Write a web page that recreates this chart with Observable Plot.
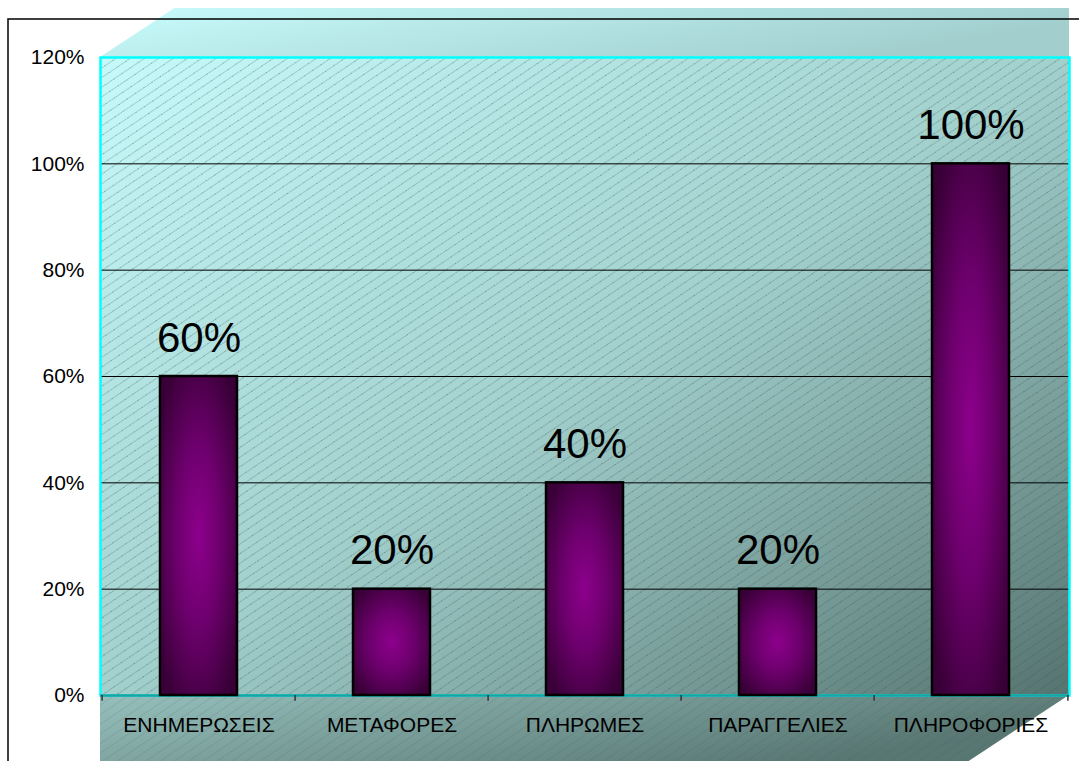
<!DOCTYPE html>
<html><head><meta charset="utf-8">
<script src="https://cdn.jsdelivr.net/npm/d3@7"></script>
<script src="https://cdn.jsdelivr.net/npm/@observablehq/plot@0.6"></script>
<style>html,body{margin:0;padding:0;background:#fff}#chart svg{display:block}</style>
</head><body><div id="chart"></div>
<script>
const categories = ["ΕΝΗΜΕΡΩΣΕΙΣ", "ΜΕΤΑΦΟΡΕΣ", "ΠΛΗΡΩΜΕΣ", "ΠΑΡΑΓΓΕΛΙΕΣ", "ΠΛΗΡΟΦΟΡΙΕΣ"];
const values = [0.6, 0.2, 0.4, 0.2, 1.0];
const valueLabels = ["60%", "20%", "40%", "20%", "100%"];
const yTicks = [0, 0.2, 0.4, 0.6, 0.8, 1.0, 1.2];
const yTickLabels = ["0%", "20%", "40%", "60%", "80%", "100%", "120%"];

const data = categories.map((c, i) => ({category: c, value: values[i], label: valueLabels[i]}));

const W = 1079, H = 761, mT = 57, mB = 66, mL = 100, mR = 10;
const step = (W - mL - mR) / categories.length;
const font = "'Liberation Sans', Arial, sans-serif";

const chart = Plot.plot({
  width: W, height: H,
  marginTop: mT, marginBottom: mB, marginLeft: mL, marginRight: mR,
  style: {fontFamily: font, background: "transparent", color: "black", overflow: "visible"},
  x: {domain: categories, paddingInner: 0.6, paddingOuter: 0.3, label: null},
  y: {domain: [0, 1.2], label: null},
  marks: [
    Plot.frame({fill: "url(#bgGrad)", stroke: "none"}),
    Plot.frame({fill: "url(#hatch)", stroke: "none"}),
    Plot.ruleY(yTicks.filter(v => v > 0 && v < 1.2), {stroke: "black", strokeWidth: 1}),
    Plot.frame({stroke: "#00ffff", strokeWidth: 2.5}),
    Plot.ruleY([0], {stroke: "#1aa3a3", strokeWidth: 2.5}),
    Plot.ruleX(categories, {x: d => d, y1: 0, y2: -0.011, dx: -step / 2, stroke: "#333", strokeWidth: 1.5}),
    Plot.ruleX(categories.slice(-1), {x: d => d, y1: 0, y2: -0.011, dx: step / 2, stroke: "#333", strokeWidth: 1.5}),
    Plot.barY(data, {x: "category", y: "value", fill: "url(#barGrad)", stroke: "black", strokeWidth: 2.5}),
    Plot.text(data, {x: "category", y: "value", text: "label", lineAnchor: "bottom", dy: -25, fontSize: 42, fill: "black"}),
    Plot.axisY(yTicks, {tickSize: 0, tickPadding: 16, fontSize: 21, label: null,
      tickFormat: d => yTickLabels[yTicks.indexOf(d)]}),
    Plot.axisX({tickSize: 0, tickPadding: 22, fontSize: 21, label: null})
  ]
});

const svg = d3.select(chart);
const defs = svg.insert("defs", ":first-child");

const bgG = defs.append("linearGradient").attr("id", "bgGrad")
  .attr("x1", 0).attr("y1", 0).attr("x2", 1).attr("y2", 1);
bgG.append("stop").attr("offset", 0).attr("stop-color", "#c6fafa");
bgG.append("stop").attr("offset", 0.5).attr("stop-color", "#a2d0cd");
bgG.append("stop").attr("offset", 1).attr("stop-color", "#567470");

const hatchP = defs.append("pattern").attr("id", "hatch")
  .attr("patternUnits", "userSpaceOnUse").attr("width", 10).attr("height", 8)
  .attr("patternTransform", "rotate(-34)");
hatchP.append("line").attr("x1", 0).attr("y1", 0.5).attr("x2", 10).attr("y2", 0.5)
  .attr("stroke", "#3c5858").attr("stroke-opacity", 0.45).attr("stroke-width", 1)
  .attr("stroke-dasharray", "1.2,1");

const hatchF = defs.append("pattern").attr("id", "hatchFaint")
  .attr("patternUnits", "userSpaceOnUse").attr("width", 10).attr("height", 8)
  .attr("patternTransform", "rotate(-34)");
hatchF.append("line").attr("x1", 0).attr("y1", 0.5).attr("x2", 10).attr("y2", 0.5)
  .attr("stroke", "#3c5858").attr("stroke-opacity", 0.15).attr("stroke-width", 1);

const barG = defs.append("radialGradient").attr("id", "barGrad")
  .attr("cx", 0.5).attr("cy", 0.5).attr("r", 0.62);
barG.append("stop").attr("offset", 0).attr("stop-color", "#8c008c");
barG.append("stop").attr("offset", 0.45).attr("stop-color", "#6e006e");
barG.append("stop").attr("offset", 1).attr("stop-color", "#380036");

const topG = defs.append("linearGradient").attr("id", "topGrad")
  .attr("x1", 0).attr("y1", 0).attr("x2", 1).attr("y2", 0.3);
topG.append("stop").attr("offset", 0).attr("stop-color", "#c8fcfc");
topG.append("stop").attr("offset", 1).attr("stop-color", "#a2cece");

const floorG = defs.append("linearGradient").attr("id", "floorGrad")
  .attr("x1", 0).attr("y1", 0).attr("x2", 1).attr("y2", 0.4);
floorG.append("stop").attr("offset", 0).attr("stop-color", "#96c0bc");
floorG.append("stop").attr("offset", 1).attr("stop-color", "#587672");

// decorative 3D walls (top face behind, floor in front)
const px0 = mL, px1 = W - mR, yTop = mT, yBot = H - mB;
const slope = 1.52, depth = 49;
const deco = svg.insert("g", "defs + *");
deco.append("polygon")
  .attr("points", [[px0, yTop], [px0 + depth * slope, yTop - depth], [px1, yTop - depth], [px1, yTop]].map(p => p.join(",")).join(" "))
  .attr("fill", "url(#topGrad)");
const fl = [[px0, yBot], [px1, yBot], [px1 - (H - yBot) * slope, H], [px0, H]].map(p => p.join(",")).join(" ");
deco.append("polygon").attr("points", fl).attr("fill", "url(#floorGrad)");
deco.append("polygon").attr("points", fl).attr("fill", "url(#hatchFaint)");

// outer frame lines
svg.append("path").attr("d", `M8,${H}V19H${W}`).attr("fill", "none").attr("stroke", "black").attr("stroke-width", 1.5);

document.getElementById("chart").appendChild(chart);
</script>
</body></html>
